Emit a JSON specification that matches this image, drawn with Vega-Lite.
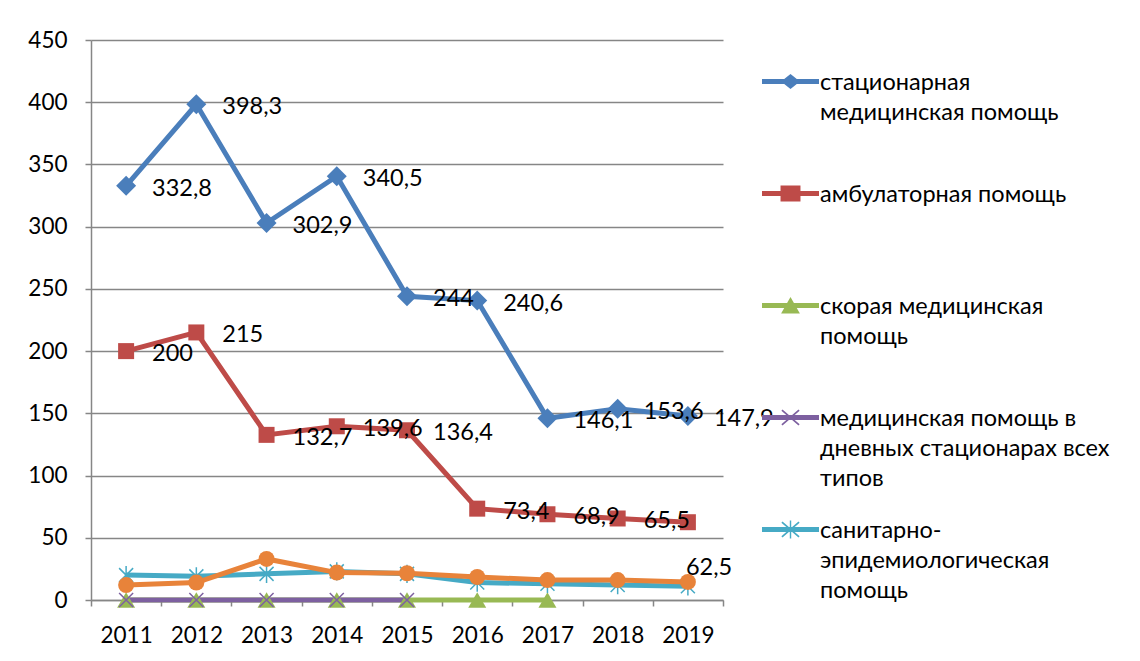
{
  "$schema": "https://vega.github.io/schema/vega-lite/v6.json",
  "width": 632,
  "height": 560,
  "autosize": {"type": "none"},
  "padding": {"left": 91, "top": 40, "right": 417, "bottom": 61},
  "background": "white",
  "config": {
    "locale": {"number": {"decimal": ",", "thousands": " ", "grouping": [3], "currency": ["", ""]}},
    "font": "Lato",
    "view": {"stroke": null},
    "axis": {
      "labelFont": "Lato", "labelFontSize": 22.5, "labelColor": "#000000",
      "domainColor": "#868686", "tickColor": "#868686", "gridColor": "#868686",
      "domainWidth": 1.5, "tickWidth": 1.5, "gridWidth": 1.5, "tickSize": 6, "title": null
    }
  },
  "datasets": {
    "d": [
      {"year": "2011", "series": "стационарная медицинская помощь", "value": 332.8},
      {"year": "2012", "series": "стационарная медицинская помощь", "value": 398.3},
      {"year": "2013", "series": "стационарная медицинская помощь", "value": 302.9},
      {"year": "2014", "series": "стационарная медицинская помощь", "value": 340.5},
      {"year": "2015", "series": "стационарная медицинская помощь", "value": 244},
      {"year": "2016", "series": "стационарная медицинская помощь", "value": 240.6},
      {"year": "2017", "series": "стационарная медицинская помощь", "value": 146.1},
      {"year": "2018", "series": "стационарная медицинская помощь", "value": 153.6},
      {"year": "2019", "series": "стационарная медицинская помощь", "value": 147.9},
      {"year": "2011", "series": "амбулаторная помощь", "value": 200},
      {"year": "2012", "series": "амбулаторная помощь", "value": 215},
      {"year": "2013", "series": "амбулаторная помощь", "value": 132.7},
      {"year": "2014", "series": "амбулаторная помощь", "value": 139.6},
      {"year": "2015", "series": "амбулаторная помощь", "value": 136.4},
      {"year": "2016", "series": "амбулаторная помощь", "value": 73.4},
      {"year": "2017", "series": "амбулаторная помощь", "value": 68.9},
      {"year": "2018", "series": "амбулаторная помощь", "value": 65.5},
      {"year": "2019", "series": "амбулаторная помощь", "value": 62.5},
      {"year": "2011", "series": "скорая медицинская помощь", "value": 0},
      {"year": "2012", "series": "скорая медицинская помощь", "value": 0},
      {"year": "2013", "series": "скорая медицинская помощь", "value": 0},
      {"year": "2014", "series": "скорая медицинская помощь", "value": 0},
      {"year": "2015", "series": "скорая медицинская помощь", "value": 0},
      {"year": "2016", "series": "скорая медицинская помощь", "value": 0},
      {"year": "2017", "series": "скорая медицинская помощь", "value": 0},
      {"year": "2011", "series": "медицинская помощь в дневных стационарах всех типов", "value": 0},
      {"year": "2012", "series": "медицинская помощь в дневных стационарах всех типов", "value": 0},
      {"year": "2013", "series": "медицинская помощь в дневных стационарах всех типов", "value": 0},
      {"year": "2014", "series": "медицинская помощь в дневных стационарах всех типов", "value": 0},
      {"year": "2015", "series": "медицинская помощь в дневных стационарах всех типов", "value": 0},
      {"year": "2011", "series": "санитарно-эпидемиологическая помощь", "value": 20},
      {"year": "2012", "series": "санитарно-эпидемиологическая помощь", "value": 19},
      {"year": "2013", "series": "санитарно-эпидемиологическая помощь", "value": 21},
      {"year": "2014", "series": "санитарно-эпидемиологическая помощь", "value": 23},
      {"year": "2015", "series": "санитарно-эпидемиологическая помощь", "value": 21},
      {"year": "2016", "series": "санитарно-эпидемиологическая помощь", "value": 14},
      {"year": "2017", "series": "санитарно-эпидемиологическая помощь", "value": 13},
      {"year": "2018", "series": "санитарно-эпидемиологическая помощь", "value": 12},
      {"year": "2019", "series": "санитарно-эпидемиологическая помощь", "value": 11},
      {"year": "2011", "series": "прочее", "value": 12},
      {"year": "2012", "series": "прочее", "value": 14},
      {"year": "2013", "series": "прочее", "value": 33},
      {"year": "2014", "series": "прочее", "value": 22},
      {"year": "2015", "series": "прочее", "value": 21.5},
      {"year": "2016", "series": "прочее", "value": 18.5},
      {"year": "2017", "series": "прочее", "value": 16},
      {"year": "2018", "series": "прочее", "value": 16},
      {"year": "2019", "series": "прочее", "value": 14.5}
    ]
  },
  "data": {"name": "d"},
  "encoding": {
    "x": {
      "field": "year", "type": "ordinal",
      "scale": {"type": "band", "paddingInner": 0, "paddingOuter": 0},
      "axis": {"labelAngle": 0, "tickBand": "extent", "labelPadding": 18}
    },
    "y": {
      "field": "value", "type": "quantitative",
      "scale": {"domain": [0, 450], "nice": false},
      "axis": {"values": [0, 50, 100, 150, 200, 250, 300, 350, 400, 450], "grid": true, "labelPadding": 18}
    }
  },
  "layer": [
    {
      "transform": [{"filter": "datum.series == 'стационарная медицинская помощь'"}],
      "mark": {"type": "line", "strokeWidth": 5, "color": "#4A7EBB"},
      "encoding": {}
    },
    {
      "transform": [{"filter": "datum.series == 'амбулаторная помощь'"}],
      "mark": {"type": "line", "strokeWidth": 5, "color": "#BE4B48"},
      "encoding": {}
    },
    {
      "transform": [{"filter": "datum.series == 'скорая медицинская помощь'"}],
      "mark": {"type": "line", "strokeWidth": 5, "color": "#98B954"},
      "encoding": {}
    },
    {
      "transform": [{"filter": "datum.series == 'медицинская помощь в дневных стационарах всех типов'"}],
      "mark": {"type": "line", "strokeWidth": 5, "color": "#7D60A0"},
      "encoding": {}
    },
    {
      "transform": [{"filter": "datum.series == 'санитарно-эпидемиологическая помощь'"}],
      "mark": {"type": "line", "strokeWidth": 5, "color": "#46AAC5"},
      "encoding": {}
    },
    {
      "transform": [{"filter": "datum.series == 'прочее'"}],
      "mark": {"type": "line", "strokeWidth": 5, "color": "#E8833A"},
      "encoding": {}
    },
    {
      "transform": [{"filter": "datum.series == 'стационарная медицинская помощь'"}],
      "mark": {"type": "point", "shape": "diamond", "size": 400, "filled": true, "opacity": 1, "color": "#4A7EBB"}
    },
    {
      "transform": [{"filter": "datum.series == 'амбулаторная помощь'"}],
      "mark": {"type": "point", "shape": "square", "size": 256, "filled": true, "opacity": 1, "color": "#BE4B48"}
    },
    {
      "transform": [{"filter": "datum.series == 'скорая медицинская помощь'"}],
      "mark": {"type": "point", "shape": "triangle-up", "size": 324, "filled": true, "opacity": 1, "color": "#98B954"}
    },
    {
      "transform": [{"filter": "datum.series == 'медицинская помощь в дневных стационарах всех типов'"}],
      "mark": {"type": "point", "shape": "M-1,-1L1,1M1,-1L-1,1", "size": 196, "filled": false, "strokeWidth": 1.5, "opacity": 1, "color": "#7D60A0"}
    },
    {
      "transform": [{"filter": "datum.series == 'санитарно-эпидемиологическая помощь'"}],
      "mark": {"type": "point", "shape": "M-1,-1L1,1M1,-1L-1,1M0,-1.3V1.3", "size": 196, "filled": false, "strokeWidth": 1.5, "opacity": 1, "color": "#46AAC5"}
    },
    {
      "transform": [{"filter": "datum.series == 'прочее'"}],
      "mark": {"type": "point", "shape": "circle", "size": 256, "filled": true, "opacity": 1, "color": "#E8833A"}
    },
    {
      "transform": [{"filter": "(datum.series == 'стационарная медицинская помощь' || datum.series == 'амбулаторная помощь') && !(datum.series == 'амбулаторная помощь' && datum.year == '2019')"}],
      "mark": {"type": "text", "align": "left", "baseline": "middle", "dx": 26, "dy": 3, "font": "Lato", "fontSize": 23.5, "color": "#000000"},
      "encoding": {"text": {"field": "value", "type": "quantitative", "format": "~g"}}
    },
    {
      "transform": [{"filter": "datum.series == 'амбулаторная помощь' && datum.year == '2019'"}],
      "mark": {"type": "text", "align": "left", "baseline": "middle", "dx": -2, "dy": 46, "font": "Lato", "fontSize": 23.5, "color": "#000000"},
      "encoding": {"text": {"field": "value", "type": "quantitative", "format": "~g"}}
    },
    {
      "transform": [{"filter": "datum.series != 'прочее'"}],
      "mark": {"type": "point", "filled": true, "opacity": 0, "size": 3249, "strokeWidth": 0},
      "encoding": {
        "color": {
          "field": "series", "type": "nominal",
          "scale": {
            "domain": ["стационарная медицинская помощь", "амбулаторная помощь", "скорая медицинская помощь", "медицинская помощь в дневных стационарах всех типов", "санитарно-эпидемиологическая помощь"],
            "range": ["#4A7EBB", "#BE4B48", "#98B954", "#7D60A0", "#46AAC5"]
          },
          "legend": {
            "title": null, "orient": "none", "legendX": 671, "legendY": 13, "padding": 0,
            "symbolSize": 3249, "symbolStrokeWidth": 0, "symbolOpacity": 1,
            "labelFont": "Lato", "labelFontSize": 23.5, "labelColor": "#000000", "labelLimit": 400, "labelOffset": 1,
            "rowPadding": 11, "labelBaseline": "alphabetic",
            "labelExpr": "datum.label == 'стационарная медицинская помощь' ? ['стационарная', 'медицинская помощь', ' '] : datum.label == 'амбулаторная помощь' ? ['амбулаторная помощь', ' ', ' '] : datum.label == 'скорая медицинская помощь' ? ['скорая медицинская', 'помощь', ' '] : datum.label == 'медицинская помощь в дневных стационарах всех типов' ? ['медицинская помощь в', 'дневных стационарах всех', 'типов'] : ['санитарно-', 'эпидемиологическая', 'помощь']",
            "encode": {"labels": {"update": {"lineHeight": {"value": 30}, "dy": {"value": 8}}}}
          }
        },
        "shape": {
          "field": "series", "type": "nominal",
          "scale": {
            "domain": ["стационарная медицинская помощь", "амбулаторная помощь", "скорая медицинская помощь", "медицинская помощь в дневных стационарах всех типов", "санитарно-эпидемиологическая помощь"],
            "range": [
              "M-1,-0.088H1V0.088H-1Z M-0.33,0L0,-0.26L0.33,0L0,0.26Z",
              "M-1,-0.088H1V0.088H-1Z M-0.35,-0.28H0.35V0.28H-0.35Z",
              "M-1,-0.088H1V0.088H-1Z M0,-0.3L0.33,0.28L-0.33,0.28Z",
              "M-1,-0.088H1V0.088H-1Z M-0.32,-0.24L-0.28,-0.28L0.32,0.24L0.28,0.28Z M0.28,-0.28L0.32,-0.24L-0.28,0.28L-0.32,0.24Z",
              "M-1,-0.088H1V0.088H-1Z M-0.32,-0.24L-0.28,-0.28L0.32,0.24L0.28,0.28Z M0.28,-0.28L0.32,-0.24L-0.28,0.28L-0.32,0.24Z M-0.025,-0.32H0.025V0.32H-0.025Z"
            ]
          },
          "legend": {
            "title": null, "orient": "none", "legendX": 671, "legendY": 13, "padding": 0,
            "symbolSize": 3249, "symbolStrokeWidth": 0, "symbolOpacity": 1,
            "labelFont": "Lato", "labelFontSize": 23.5, "labelColor": "#000000", "labelLimit": 400, "labelOffset": 1,
            "rowPadding": 11, "labelBaseline": "alphabetic"
          }
        }
      }
    }
  ]
}
